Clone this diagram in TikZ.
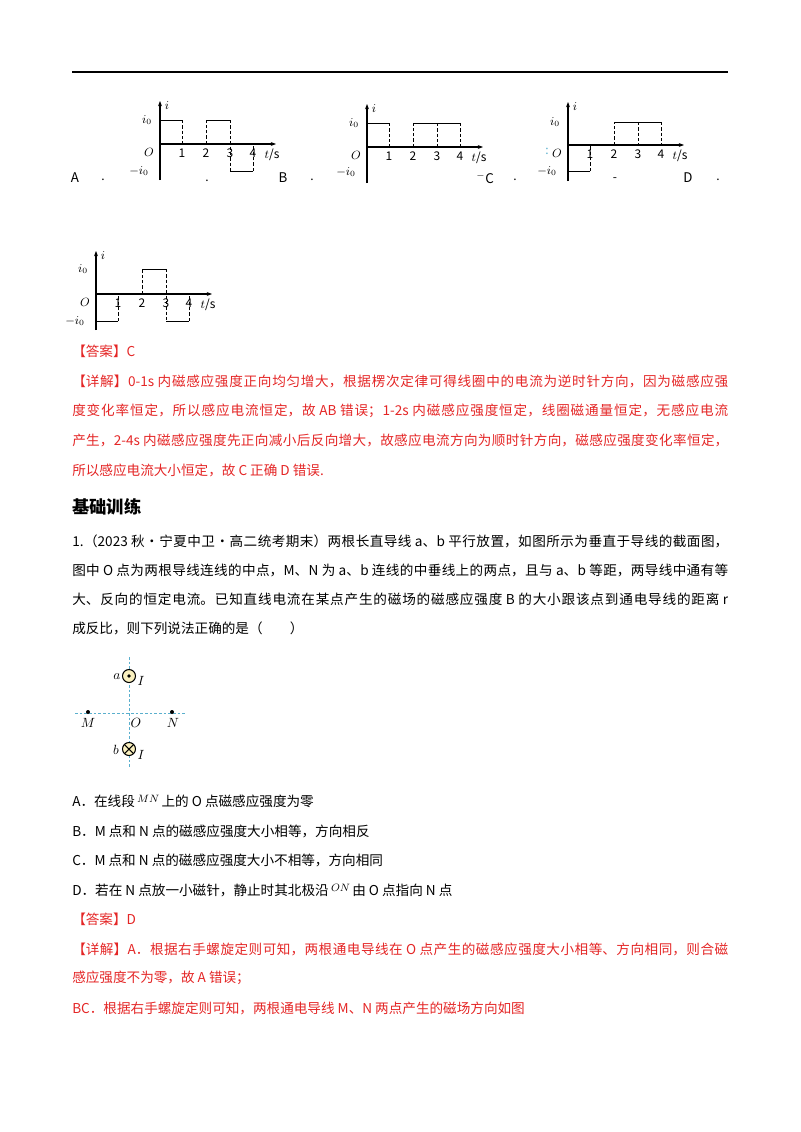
\documentclass[tikz,border=0pt]{standalone}
\usepackage{fontspec}
\setmainfont{Noto Sans CJK SC}
\usetikzlibrary{arrows.meta}
\XeTeXlinebreaklocale "zh"
\XeTeXlinebreakskip=0pt plus 2pt
\definecolor{ansred}{RGB}{228,38,38}
\definecolor{dashblue}{RGB}{90,175,205}
\definecolor{wirefill}{RGB}{250,240,190}
\tikzset{
  txt/.style={anchor=west,inner sep=0pt,font=\fontsize{10.2pt}{12pt}\selectfont},
  jl/.style={txt,text width=492pt,align=justify},
  red/.style={text=ansred},
  ax/.style={line width=0.8pt,-{Stealth[length=4pt,width=3pt]}},
  sig/.style={line width=0.7pt},
  dsig/.style={line width=0.7pt,dash pattern=on 2.5pt off 1.5pt},
  gl/.style={inner sep=0pt,font=\fontsize{9pt}{10pt}\selectfont},
  dl/.style={inner sep=0pt,font=\fontsize{10pt}{11pt}\selectfont},
}
\newcommand{\jline}[1]{\parfillskip=0pt\relax #1\par}
\newcommand{\graphaxes}{%
  \draw[ax] (0,36) -- (0,-43);
  \draw[ax] (0,0) -- (116,0);
  \node[gl] (li) at (7,-38) {$i$};
  \node[gl] (lo) at (-11,8) {$O$};
  \node[gl] (l1) at (22,9) {1};
  \node[gl] (l2) at (46,9) {2};
  \node[gl] (l3) at (70,9) {3};
  \node[gl] (l4) at (93,9) {4};
  \node[gl] (lt) at (112,11) {$t$/s};
}
\begin{document}
\begin{tikzpicture}[x=0.75pt,y=-0.75pt]
\useasboundingbox (0,0) rectangle (800,1132);
\draw[line width=1.5pt] (72,72) -- (728,72);

% Graph A
\begin{scope}[shift={(160,144)}]
\graphaxes
\node[gl] (ai) at (-13,-24) {$i_0$};
\node[gl] (ami) at (-21,27) {$-i_0$};
\draw[sig] (0,-24) -- (22,-24);
\draw[dsig] (22,-24) -- (22,0);
\draw[dsig] (46,0) -- (46,-24);
\draw[sig] (46,-24) -- (70,-24);
\draw[dsig] (70,-24) -- (70,27);
\draw[sig] (70,27) -- (93,27);
\draw[dsig] (93,27) -- (93,0);
\end{scope}
\node[dl] (la) at (75,178) {A};
\node[gl] (da) at (103,180) {.};
\node[gl] (da2) at (207,181) {.};

% Graph B
\begin{scope}[shift={(367,147)}]
\graphaxes
\node[gl] (bi) at (-13,-24) {$i_0$};
\node[gl] (bmi) at (-21,25) {$-i_0$};
\draw[sig] (0,-24) -- (22,-24);
\draw[dsig] (22,-24) -- (22,0);
\draw[dsig] (46,0) -- (46,-24);
\draw[sig] (46,-24) -- (93,-24);
\draw[dsig] (70,-24) -- (70,0);
\draw[dsig] (93,-24) -- (93,0);
\end{scope}
\node[dl] (lb) at (283,178) {B};
\node[gl] (db) at (312,180) {.};

% Graph C
\begin{scope}[shift={(568,145)}]
\graphaxes
\node[gl] (ci) at (-13,-23) {$i_0$};
\node[gl] (cmi) at (-21,26) {$-i_0$};
\draw[sig] (0,26) -- (22,26);
\draw[dsig] (22,26) -- (22,0);
\draw[dsig] (46,0) -- (46,-23);
\draw[sig] (46,-23) -- (93,-23);
\draw[dsig] (70,-23) -- (70,0);
\draw[dsig] (93,-23) -- (93,0);
\end{scope}
\node[dl] (lc) at (485,178) {$^{-}$C};
\node[gl] (dc) at (515,180) {.};
\node[gl,text=dashblue] (cc) at (547,151) {:};
\node[gl] (cm) at (615,180) {-};
\node[dl] (ld) at (688,178) {D};
\node[gl] (dd) at (718,180) {.};

% Graph E
\begin{scope}[shift={(96,294)}]
\graphaxes
\node[gl] (ei) at (-13,-25) {$i_0$};
\node[gl] (emi) at (-21,27) {$-i_0$};
\draw[sig] (0,27) -- (22,27);
\draw[dsig] (22,27) -- (22,0);
\draw[dsig] (46,0) -- (46,-25);
\draw[sig] (46,-25) -- (70,-25);
\draw[dsig] (70,-25) -- (70,27);
\draw[sig] (70,27) -- (93,27);
\draw[dsig] (93,27) -- (93,0);
\end{scope}

% Answer 1
\node[txt,red] (ans1) at (72,351) {【答案】C};
\node[jl,red] (d1) at (72,381) {\jline{【详解】0-1s 内磁感应强度正向均匀增大，根据楞次定律可得线圈中的电流为逆时针方向，因为磁感应强}};
\node[jl,red] (d2) at (72,411) {\jline{度变化率恒定，所以感应电流恒定，故 AB 错误；1-2s 内磁感应强度恒定，线圈磁通量恒定，无感应电流}};
\node[jl,red] (d3) at (72,440) {\jline{产生，2-4s 内磁感应强度先正向减小后反向增大，故感应电流方向为顺时针方向，磁感应强度变化率恒定，}};
\node[txt,red] (d4) at (72,470) {所以感应电流大小恒定，故 C 正确 D 错误.};

\node[txt,font=\fontsize{13pt}{15pt}\selectfont\bfseries] (title) at (72,507) {基础训练};

\node[jl] (q1) at (72,541) {\jline{1.（2023 秋•宁夏中卫•高二统考期末）两根长直导线 a、b 平行放置，如图所示为垂直于导线的截面图，}};
\node[jl] (q2) at (72,570) {\jline{图中 O 点为两根导线连线的中点，M、N 为 a、b 连线的中垂线上的两点，且与 a、b 等距，两导线中通有等}};
\node[jl] (q3) at (72,599) {\jline{大、反向的恒定电流。已知直线电流在某点产生的磁场的磁感应强度 B 的大小跟该点到通电导线的距离 r}};
\node[txt] (q4) at (72,628) {成反比，则下列说法正确的是（\quad\quad）};

% diagram
\draw[dashblue,line width=0.6pt,dash pattern=on 2pt off 1.5pt] (129,657) -- (129,768);
\draw[dashblue,line width=0.6pt,dash pattern=on 2pt off 1.5pt] (75,713) -- (187,713);
\draw[fill=wirefill,line width=0.8pt] (129,676) circle (6.5);
\fill (129,676) circle (1.8);
\draw[fill=wirefill,line width=0.8pt] (129,749) circle (6.5);
\draw[line width=0.8pt] (124.4,744.4) -- (133.6,753.6) (124.4,753.6) -- (133.6,744.4);
\fill (88,712) circle (2);
\fill (172,712) circle (2);
\node[dl] (na) at (117,677) {$a$};
\node[dl] (nia) at (141,681) {$I$};
\node[dl] (nb) at (116,750) {$b$};
\node[dl] (nib) at (141,755) {$I$};
\node[dl] (nm) at (88,723) {$M$};
\node[dl] (no) at (136,723) {$O$};
\node[dl] (nn) at (173,723) {$N$};

% options
\node[txt] (oa) at (72,801) {A．在线段\,\raisebox{3pt}{\footnotesize$MN$}\,上的 O 点磁感应强度为零};
\node[txt] (ob) at (72,831) {B．M 点和 N 点的磁感应强度大小相等，方向相反};
\node[txt] (oc) at (72,860) {C．M 点和 N 点的磁感应强度大小不相等，方向相同};
\node[txt] (od) at (72,890) {D．若在 N 点放一小磁针，静止时其北极沿\,\raisebox{3pt}{\footnotesize$ON$}\,由 O 点指向 N 点};

\node[txt,red] (ans2) at (72,919) {【答案】D};
\node[jl,red] (e1) at (72,949) {\jline{【详解】A．根据右手螺旋定则可知，两根通电导线在 O 点产生的磁感应强度大小相等、方向相同，则合磁}};
\node[txt,red] (e2) at (72,978) {感应强度不为零，故 A 错误；};
\node[txt,red] (e3) at (72,1008) {BC．根据右手螺旋定则可知，两根通电导线 M、N 两点产生的磁场方向如图};
\end{tikzpicture}
\end{document}
